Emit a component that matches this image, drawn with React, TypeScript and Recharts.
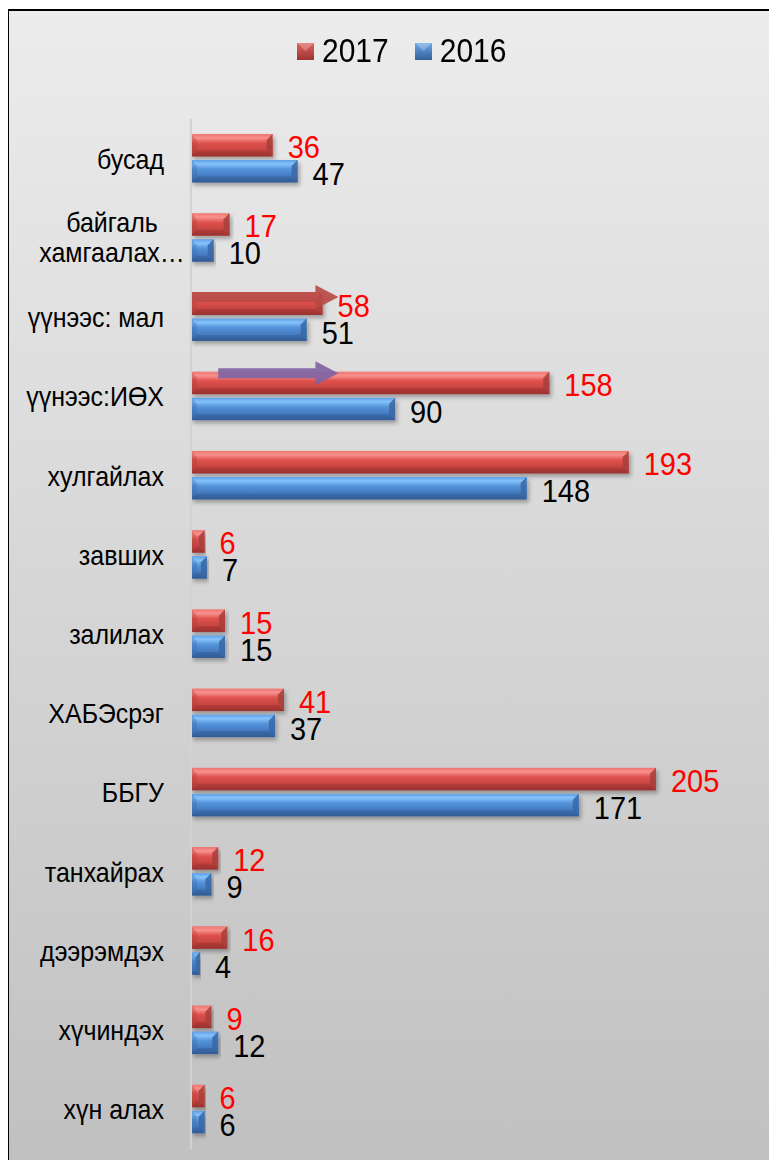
import { BarChart, Bar, XAxis, YAxis, Legend, LabelList, ReferenceLine } from 'recharts';

const categories = [
  'бусад',
  'байгаль хамгаалах…',
  'үүнээс: мал',
  'үүнээс:ИӨХ',
  'хулгайлах',
  'завших',
  'залилах',
  'ХАБЭсрэг',
  'ББГУ',
  'танхайрах',
  'дээрэмдэх',
  'хүчиндэх',
  'хүн алах',
];
const values2017 = [36, 17, 58, 158, 193, 6, 15, 41, 205, 12, 16, 9, 6];
const values2016 = [47, 10, 51, 90, 148, 7, 15, 37, 171, 9, 4, 12, 6];

// hand-drawn arrows on the slide (value units)
const arrows = [
  { category: 'үүнээс: мал', from: 0, to: 65, color: '#b94a47', lift: -20 },
  { category: 'үүнээс:ИӨХ', from: 12, to: 65, color: '#8064a2', lift: -23 },
];

const data = categories.map((name, i) => ({ name, y2017: values2017[i], y2016: values2016[i] }));

const FONT = '"Liberation Sans", Arial, sans-serif';
const STRETCH = 1.1; // text on the slide is a little taller than the font

const SKIN: Record<string, { grad: string; cap: string; edge: string }> = {
  red: { grad: 'url(#gRed)', cap: '#a9403c', edge: '#8c2e2b' },
  blue: { grad: 'url(#gBlue)', cap: '#3b69a6', edge: '#2d5589' },
};

function bevelBar(skin: string) {
  return (props: any) => {
    const { x, y, width, height } = props;
    if (!width || width <= 0) return <g />;
    const s = SKIN[skin];
    const b = Math.min(6, width / 2);
    const r = x + width;
    const bt = y + height;
    return (
      <g filter="url(#barShadow)">
        <rect x={x} y={y} width={width} height={height} fill={s.grad} />
        <polygon points={`${r},${y} ${r},${bt} ${r - b},${bt - b} ${r - b},${y + b}`} fill={s.cap} opacity={0.9} />
        <polygon points={`${x},${bt} ${r},${bt} ${r - b},${bt - b} ${x + b},${bt - b}`} fill={s.edge} opacity={0.35} />
        <polygon points={`${x},${y} ${x + b},${y + b} ${x + b},${bt - b} ${x},${bt}`} fill={s.cap} opacity={0.35} />
      </g>
    );
  };
}

function Txt({ x, y, anchor = 'start', size, color = '#000', children }: any) {
  return (
    <text
      transform={`translate(${x},${y}) scale(1,${STRETCH})`}
      textAnchor={anchor}
      fontSize={size}
      fontFamily={FONT}
      fill={color}
    >
      {children}
    </text>
  );
}

function ValueLabel(color: string, dy: number) {
  return (props: any) => {
    const { x, y, width, height, value } = props;
    return (
      <Txt x={x + width + 15} y={y + height / 2 + dy} size={29} color={color}>
        {value}
      </Txt>
    );
  };
}

function CategoryTick(props: any) {
  const { y, payload } = props;
  const text: string = payload.value;
  const right = 155;
  if (text.length > 14) {
    const idx = text.indexOf(' ');
    return (
      <g>
        <Txt x={right - 52} y={y - 6} anchor="middle" size={25}>{text.slice(0, idx)}</Txt>
        <Txt x={right - 52} y={y + 24} anchor="middle" size={25}>{text.slice(idx + 1)}</Txt>
      </g>
    );
  }
  return (
    <Txt x={right} y={y + 10} anchor="end" size={25}>
      {text}
    </Txt>
  );
}

function LegendIcon({ grad }: { grad: string }) {
  return (
    <svg width={17} height={17} style={{ marginRight: 8 }}>
      <rect x={0} y={0} width={17} height={17} fill={grad} />
      <polygon points="0,0 17,0 8.5,8 " fill="#fff" opacity={0.25} />
    </svg>
  );
}

function LegendBox() {
  const label = { display: 'inline-block', transform: `scaleY(${STRETCH})` };
  return (
    <div style={{ height: 88, display: 'flex', alignItems: 'flex-start' }}>
      <div style={{ display: 'flex', alignItems: 'center', height: 40, paddingLeft: 288, fontFamily: FONT, fontSize: 30 }}>
        <LegendIcon grad="url(#gRedIcon)" />
        <span style={{ ...label, marginRight: 26 }}>2017</span>
        <LegendIcon grad="url(#gBlueIcon)" />
        <span style={label}>2016</span>
      </div>
    </div>
  );
}

function Arrow(color: string, lift: number) {
  return (props: any) => {
    const { x1, y1, x2 } = props;
    const y = y1 + lift;
    const head = 23;
    const shaft = 5;
    const half = 12;
    return (
      <polygon
        points={`${x1},${y - shaft} ${x2 - head},${y - shaft} ${x2 - head},${y - half} ${x2},${y} ${x2 - head},${y + half} ${x2 - head},${y + shaft} ${x1},${y + shaft}`}
        fill={color}
        opacity={0.92}
      />
    );
  };
}

export default function App() {
  return (
    <div
      style={{
        marginLeft: -1,
        marginTop: 1,
        width: 790,
        height: 1160,
        borderTop: '2px solid #000',
        borderLeft: '2px solid #000',
        background: 'linear-gradient(to bottom, #ececec 0%, #d4d4d4 55%, #c0c0c0 100%)',
      }}
    >
      <svg width={0} height={0} style={{ position: 'absolute' }}>
        <defs>
          <linearGradient id="gRed" x1="0" y1="0" x2="0" y2="1">
            <stop offset="0%" stopColor="#ef7470" />
            <stop offset="18%" stopColor="#f8918d" />
            <stop offset="40%" stopColor="#e0524e" />
            <stop offset="75%" stopColor="#c4433f" />
            <stop offset="100%" stopColor="#a23431" />
          </linearGradient>
          <linearGradient id="gBlue" x1="0" y1="0" x2="0" y2="1">
            <stop offset="0%" stopColor="#5d9fe6" />
            <stop offset="18%" stopColor="#86c3fb" />
            <stop offset="40%" stopColor="#5594db" />
            <stop offset="75%" stopColor="#4277bd" />
            <stop offset="100%" stopColor="#345f9a" />
          </linearGradient>
          <linearGradient id="gRedIcon" x1="0" y1="0" x2="0" y2="1">
            <stop offset="0%" stopColor="#e0625e" />
            <stop offset="100%" stopColor="#9c3532" />
          </linearGradient>
          <linearGradient id="gBlueIcon" x1="0" y1="0" x2="0" y2="1">
            <stop offset="0%" stopColor="#6aa7ea" />
            <stop offset="100%" stopColor="#355f98" />
          </linearGradient>
          <filter id="barShadow" x="-5%" y="-30%" width="115%" height="180%">
            <feDropShadow dx="2" dy="3" stdDeviation="2" floodColor="#000" floodOpacity="0.3" />
          </filter>
        </defs>
      </svg>
      <BarChart
        width={780}
        height={1150}
        data={data}
        layout="vertical"
        margin={{ top: 20, right: 31, bottom: 12, left: 0 }}
        barSize={22.5}
        barGap={3.5}
      >
        <Legend verticalAlign="top" content={() => <LegendBox />} />
        <XAxis type="number" domain={[0, 250]} hide />
        <YAxis
          type="category"
          dataKey="name"
          width={182}
          tickLine={false}
          tickSize={0}
          axisLine={{ stroke: '#d2d2d2', strokeWidth: 2 }}
          tick={<CategoryTick />}
          interval={0}
        />
        <Bar dataKey="y2017" name="2017" shape={bevelBar('red')} isAnimationActive={false}>
          <LabelList dataKey="y2017" content={ValueLabel('#ff0000', 13)} />
        </Bar>
        <Bar dataKey="y2016" name="2016" shape={bevelBar('blue')} isAnimationActive={false}>
          <LabelList dataKey="y2016" content={ValueLabel('#000000', 14)} />
        </Bar>
        {arrows.map((a) => (
          <ReferenceLine
            key={a.category}
            segment={[
              { x: a.from, y: a.category },
              { x: a.to, y: a.category },
            ]}
            shape={Arrow(a.color, a.lift)}
            ifOverflow="visible"
          />
        ))}
      </BarChart>
    </div>
  );
}
